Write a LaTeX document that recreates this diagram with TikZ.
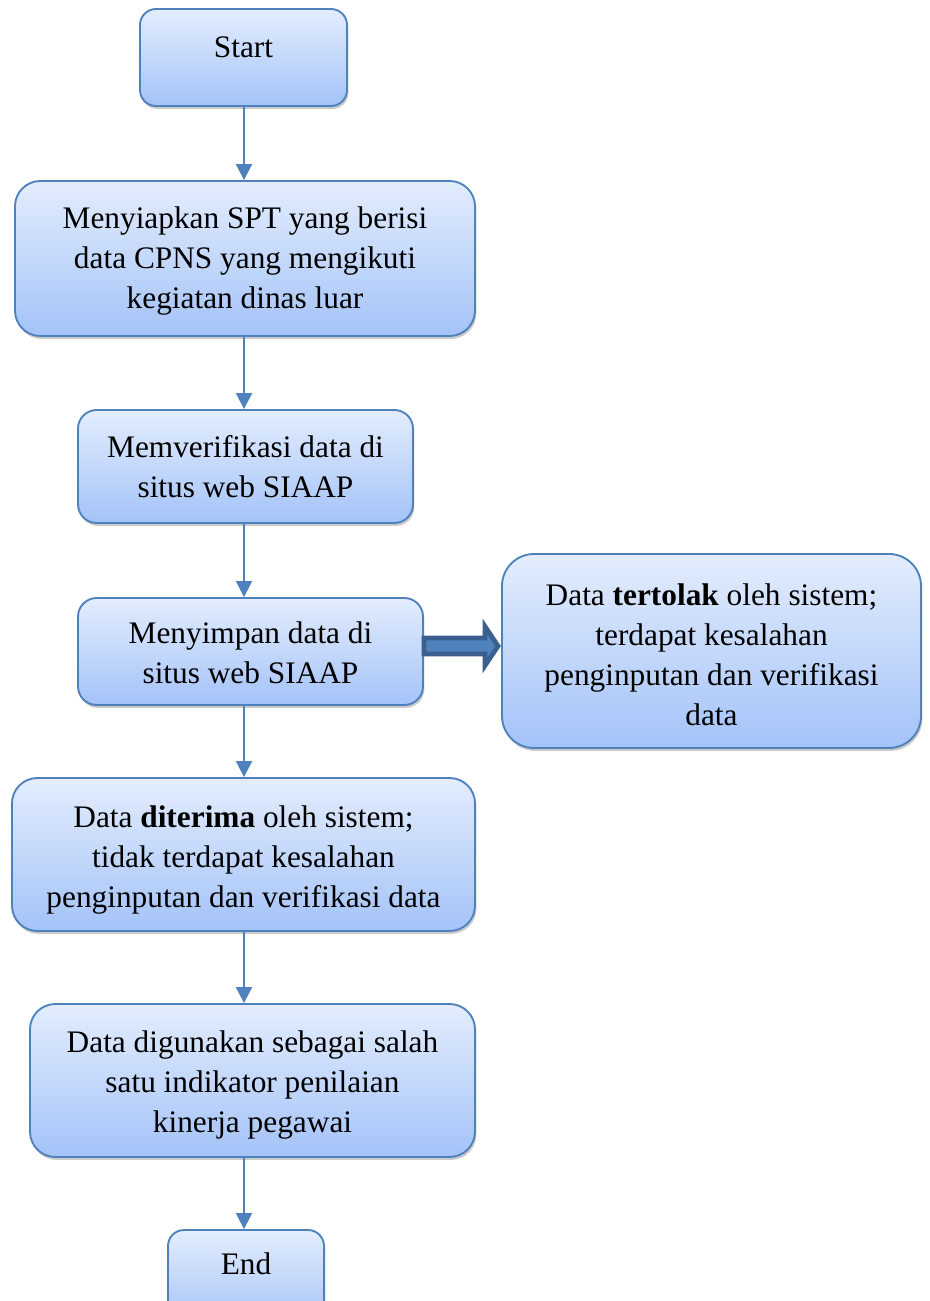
\documentclass[tikz,border=0pt]{standalone}
\usepackage{fontspec}
\setmainfont{Liberation Serif}
\usetikzlibrary{calc,shadows,arrows.meta}

\definecolor{edge}{HTML}{4F81BD}
\definecolor{fillTop}{HTML}{E3EDFD}
\definecolor{fillBot}{HTML}{A4C3F8}
\definecolor{fatEdge}{HTML}{3A5F8E}

% taller first line, so a block of lines sits a little below the middle
\newcommand\lowtop[1][22.5pt]{\rule{0pt}{#1}}

\begin{document}
\begin{tikzpicture}[x=0.75pt,y=-0.75pt,
  box/.style={rectangle, rounded corners=#1, draw=edge, line width=1.4pt,
    top color=fillTop, bottom color=fillBot, align=center, inner sep=0pt,
    font=\fontsize{23.5}{30}\selectfont,
    drop shadow={shadow xshift=1pt, shadow yshift=-2.2pt, opacity=0.35, fill=black!60}},
  box/.default=14pt,
  conn/.style={draw=edge, line width=1.5pt, -{Triangle[length=12pt,width=12pt]}},
  fat/.style={fill=edge, draw=fatEdge, line width=3.5pt, line join=miter}]

\useasboundingbox (0,0) rectangle (930,1301);

\coordinate (spine) at (244,0);

\node[box=12pt, minimum width=155.25pt, minimum height=72.75pt, text depth=15pt] (start) at (243.5,57.5) {Start};

\node[box=19pt, minimum width=345pt, minimum height=116.25pt] (spt) at (245,258.5)
  {\lowtop[19.5pt]Menyiapkan SPT yang berisi\\ data CPNS yang mengikuti\\ kegiatan dinas luar};

\node[box=14pt, minimum width=251.25pt, minimum height=84.75pt] (verif) at (245.5,466.5)
  {Memverifikasi data di\\ situs web SIAAP};

\node[box=14pt, minimum width=258.75pt, minimum height=80.25pt] (simpan) at (250.5,651.5)
  {\lowtop[18pt]Menyimpan data di\\ situs web SIAAP};

\node[box=24pt, minimum width=314.25pt, minimum height=145.5pt] (tolak) at (711.5,651)
  {\lowtop Data \textbf{tertolak} oleh sistem;\\ terdapat kesalahan\\ penginputan dan verifikasi\\ data};

\node[box=19pt, minimum width=347.25pt, minimum height=114.75pt] (terima) at (243.5,854.5)
  {\lowtop[24pt]Data \textbf{diterima} oleh sistem;\\ tidak terdapat kesalahan\\ penginputan dan verifikasi data};

\node[box=19pt, minimum width=333.75pt, minimum height=114.75pt] (guna) at (252.5,1080.5)
  {\lowtop Data digunakan sebagai salah\\ satu indikator penilaian\\ kinerja pegawai};

\node[box=12pt, minimum width=117pt, minimum height=72.75pt, text depth=22pt] (end) at (246,1278.5) {End};

% vertical flow along the spine
\draw[conn] (start.south -| spine) -- (spt.north -| spine);
\draw[conn] (spt.south -| spine) -- (verif.north -| spine);
\draw[conn] (verif.south -| spine) -- (simpan.north -| spine);
\draw[conn] (simpan.south -| spine) -- (terima.north -| spine);
\draw[conn] (terima.south -| spine) -- (guna.north -| spine);
\draw[conn] (guna.south -| spine) -- (end.north -| spine);

% block arrow to the rejection branch
\coordinate (ta) at (simpan.east |- 0,646);
\coordinate (tb) at (tolak.west |- 0,646);
\draw[fat] ($(ta)+(0,-8)$) -- ($(tb)+(-16,-8)$) -- ($(tb)+(-16,-19.5)$)
  -- ($(tb)+(-3,0)$) -- ($(tb)+(-16,19.5)$) -- ($(tb)+(-16,8)$)
  -- ($(ta)+(0,8)$) -- cycle;

\end{tikzpicture}
\end{document}
